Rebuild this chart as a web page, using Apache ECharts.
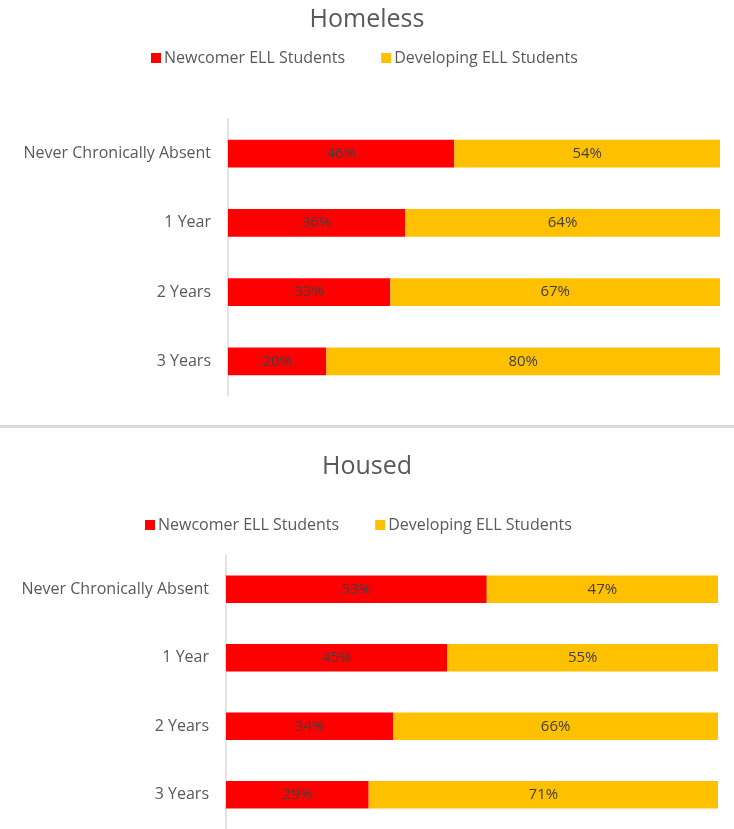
<!DOCTYPE html>
<html>
<head>
<meta charset="utf-8">
<script src="https://cdn.jsdelivr.net/npm/echarts@6/dist/echarts.min.js"></script>
<style>
  html, body { margin: 0; padding: 0; background: #fff; }
  #chart { width: 734px; height: 829px; }
</style>
</head>
<body>
<div id="chart"></div>
<script>
const categories = ["Never Chronically Absent", "1 Year", "2 Years", "3 Years"];
const seriesNames = ["Newcomer ELL Students", "Developing ELL Students"];
const homelessNewcomer = [46, 36, 33, 20];
const homelessDeveloping = [54, 64, 67, 80];
const housedNewcomer = [53, 45, 34, 29];
const housedDeveloping = [47, 55, 66, 71];
const panelTitles = ["Homeless", "Housed"];

const colors = ["#FF0000", "#FFC000"];
const textColor = "#595959";
const font = "'Open Sans', 'Liberation Sans', sans-serif";

const chart = echarts.init(document.getElementById("chart"));

function barSeries(name, data, idx, color) {
  return {
    name: name,
    type: "bar",
    stack: "total" + idx,
    xAxisIndex: idx,
    yAxisIndex: idx,
    barWidth: "40%",
    data: data,
    itemStyle: { color: color },
    label: {
      show: true,
      position: "inside",
      formatter: "{c}%",
      color: "#404040",
      fontFamily: font,
      fontSize: 15,
      padding: [3, 0, 0, 0]
    }
  };
}

const yAxisBase = {
  type: "category",
  data: categories,
  inverse: true,
  axisTick: { show: false },
  axisLine: { lineStyle: { color: "#d9d9d9", width: 1.5 } },
  axisLabel: { color: textColor, fontFamily: font, fontSize: 16, margin: 17, padding: [4, 0, 0, 0] }
};
const xAxisBase = {
  type: "value",
  min: 0,
  max: 100,
  show: false
};

const legendBase = {
  data: seriesNames, itemWidth: 10, itemHeight: 10, itemGap: 36,
  icon: "rect", selectedMode: false,
  textStyle: { color: textColor, fontFamily: font, fontSize: 16, padding: [0, 0, 0, -2] }
};
const titleStyle = { color: textColor, fontFamily: font, fontSize: 25, fontWeight: "normal" };

chart.setOption({
  animation: false,
  title: [
    { text: panelTitles[0], left: "center", top: 2, textStyle: titleStyle },
    { text: panelTitles[1], left: "center", top: 449, textStyle: titleStyle }
  ],
  legend: [
    Object.assign({}, legendBase, { left: 146, top: 45 }),
    Object.assign({}, legendBase, { left: 140, top: 512 })
  ],
  grid: [
    { left: 228, right: 14, top: 119, height: 277 },
    { left: 226, right: 16, top: 555, height: 278 }
  ],
  xAxis: [
    Object.assign({}, xAxisBase, { gridIndex: 0 }),
    Object.assign({}, xAxisBase, { gridIndex: 1 })
  ],
  yAxis: [
    Object.assign({}, yAxisBase, { gridIndex: 0 }),
    Object.assign({}, yAxisBase, { gridIndex: 1 })
  ],
  graphic: [
    {
      type: "rect",
      shape: { x: 0, y: 425, width: 734, height: 3 },
      style: { fill: "#d9d9d9" }
    }
  ],
  series: [
    barSeries(seriesNames[0], homelessNewcomer, 0, colors[0]),
    barSeries(seriesNames[1], homelessDeveloping, 0, colors[1]),
    barSeries(seriesNames[0], housedNewcomer, 1, colors[0]),
    barSeries(seriesNames[1], housedDeveloping, 1, colors[1])
  ]
});
</script>
</body>
</html>
